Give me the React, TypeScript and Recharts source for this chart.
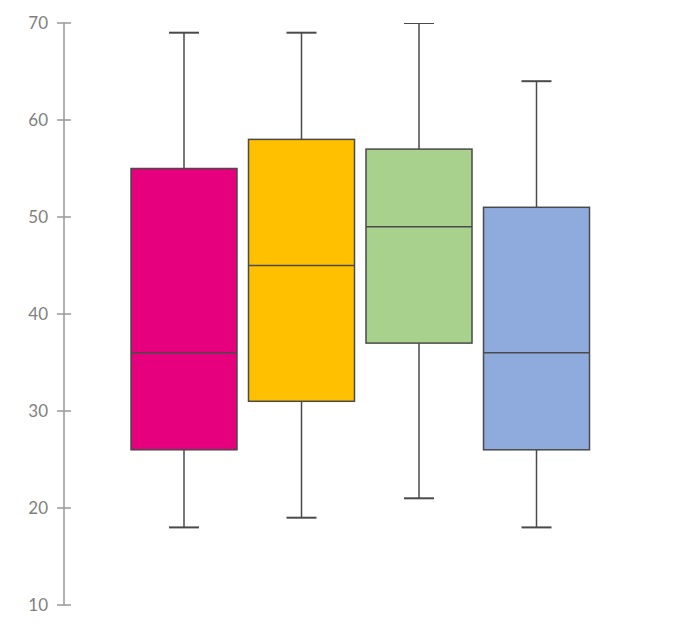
import React from "react";
import { BarChart, Bar, XAxis, YAxis, Cell } from "recharts";

// five-number summaries
const groups = ["A", "B", "C", "D"];
const mins = [18, 19, 21, 18];
const q1s = [26, 31, 37, 26];
const medians = [36, 45, 49, 36];
const q3s = [55, 58, 57, 51];
const maxs = [69, 69, 70, 64];
const colors = ["#E6007E", "#FFC000", "#A9D18E", "#8FAADC"];
const yTicks = [10, 20, 30, 40, 50, 60, 70];

const data = groups.map((g, i) => ({
  name: g,
  min: mins[i],
  q1: q1s[i],
  median: medians[i],
  q3: q3s[i],
  max: maxs[i],
}));

const STROKE = "#4a4a4a";

function BoxShape(props: any) {
  const { x, y, width, height, payload, fill } = props;
  const top = Math.min(y, y + height);
  const h = Math.abs(height);
  const { min, q1, median, q3, max } = payload;
  // map a value into the pixel span the bar got from the y scale
  const yOf = (v: number) => top + ((max - v) / (max - min)) * h;
  const cx = x + width / 2;
  const cap = 15;
  return (
    <g>
      <line x1={cx} x2={cx} y1={yOf(max)} y2={yOf(q3)} stroke={STROKE} strokeWidth={1.5} />
      <line x1={cx} x2={cx} y1={yOf(q1)} y2={yOf(min)} stroke={STROKE} strokeWidth={1.5} />
      <line x1={cx - cap} x2={cx + cap} y1={yOf(max)} y2={yOf(max)} stroke={STROKE} strokeWidth={2} />
      <line x1={cx - cap} x2={cx + cap} y1={yOf(min)} y2={yOf(min)} stroke={STROKE} strokeWidth={2} />
      <rect
        x={x}
        y={yOf(q3)}
        width={width}
        height={yOf(q1) - yOf(q3)}
        fill={fill}
        stroke={STROKE}
        strokeWidth={1.5}
      />
      <line x1={x} x2={x + width} y1={yOf(median)} y2={yOf(median)} stroke={STROKE} strokeWidth={1.5} />
    </g>
  );
}

function YTick(props: any) {
  const { x, y, payload } = props;
  // x is the text anchor; axis line sits 16px to the right
  return (
    <g>
      <line x1={x + 9} x2={x + 23} y1={y} y2={y} stroke="#999" strokeWidth={1.5} />
      <text
        x={x}
        y={y}
        dy={6}
        textAnchor="end"
        fill="#808080"
        fontSize={17}
        fontFamily="Lato, sans-serif"
      >
        {payload.value}
      </text>
    </g>
  );
}

export default function App() {
  return (
    <div style={{ position: "absolute", left: 0, top: 0, background: "#fff" }}>
      <BarChart
        width={680}
        height={629}
        data={data}
        margin={{ top: 23, right: 0, bottom: 24, left: 0 }}
      >
        <XAxis dataKey="name" hide padding={{ left: 61, right: 85 }} />
        <YAxis
          width={64}
          domain={[10, 70]}
          ticks={yTicks}
          allowDataOverflow
          axisLine={{ stroke: "#999", strokeWidth: 1.5 }}
          tickLine={false}
          tickSize={7}
          tickMargin={9}
          tick={<YTick />}
        />
        <Bar
          dataKey={(d: any) => [d.min, d.max]}
          barSize={106}
          shape={<BoxShape />}
          isAnimationActive={false}
        >
          {data.map((d, i) => (
            <Cell key={d.name} fill={colors[i]} />
          ))}
        </Bar>
      </BarChart>
    </div>
  );
}
